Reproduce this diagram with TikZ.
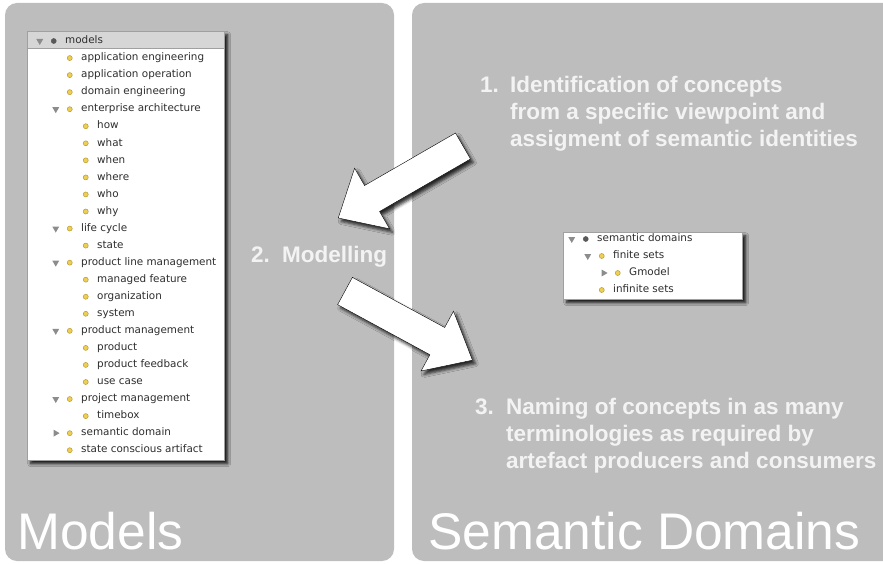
\documentclass[tikz,border=0pt]{standalone}
\usepackage{fontspec}
\setmainfont{Liberation Sans}
\newfontfamily\treefamily{DejaVu Sans}
\usepackage{xcolor}
\usepackage{tikz}
\usetikzlibrary{shapes.geometric,shadows.blur}
\definecolor{panel}{HTML}{BCBDBC}
\definecolor{note}{HTML}{F3F3F3}
\definecolor{treetext}{HTML}{2E2E2E}
\definecolor{treeline}{HTML}{A0A0A0}
\definecolor{header}{HTML}{D6D6D6}
\definecolor{bulletfill}{HTML}{EDCF55}
\definecolor{bulletdraw}{HTML}{B99A2E}
\definecolor{toggle}{HTML}{8C8C8C}
\newcommand\treefont{\treefamily\fontsize{10.4}{12}\selectfont}
\newcommand\notefont{\bfseries\fontsize{22.5}{27}\selectfont}

\begin{document}
\begin{tikzpicture}[
  x=1pt,y=-1pt,
  panelbox/.style={fill=panel,rounded corners=12pt},
  treebox/.style={draw=treeline,fill=white,anchor=north west,inner sep=0pt,
    blur shadow={shadow xshift=3.5pt,shadow yshift=-3.5pt,shadow blur radius=3pt,shadow opacity=90}},
  headbar/.style={draw=treeline,fill=header,anchor=north west,inner sep=0pt},
  item/.style={anchor=west,inner sep=0pt,font=\treefont,text=treetext,text height=7.5pt,text depth=2pt},
  bullet/.style={circle,fill=bulletfill,draw=bulletdraw,line width=0.5pt,inner sep=0pt,minimum size=5pt,label distance=8.5pt},
  rootdot/.style={bullet,fill=black!65,draw=black!65},
  tridown/.style={regular polygon,regular polygon sides=3,shape border rotate=180,fill=toggle,inner sep=0pt,minimum size=8pt,label distance=22.7pt},
  triright/.style={regular polygon,regular polygon sides=3,shape border rotate=-90,fill=toggle,inner sep=0pt,minimum size=8pt,label distance=21pt},
  leaf/.style={item,label={[bullet]left:}},
  open/.style={leaf,label={[tridown]left:}},
  closed/.style={leaf,label={[triright]left:}},
  root/.style={item,label={[rootdot]left:},label={[tridown]left:}},
  note/.style={inner sep=0pt,anchor=base west,text=note,font=\notefont},
  title/.style={inner sep=0pt,anchor=base west,text=white,font=\fontsize{51.5}{60}\selectfont},
  bigarrow/.style={fill=white,blur shadow={shadow xshift=3pt,shadow yshift=-3.5pt,shadow blur radius=3pt,shadow opacity=80}}
]
\useasboundingbox (0,0) rectangle (883,564);
\fill[panelbox] (5,3) rectangle (394,561);
\fill[panelbox] (412,3) rectangle (900,561);

\node[treebox,minimum width=197pt,minimum height=429pt] (lbox) at (27,31) {};
\node[headbar,minimum width=197pt,minimum height=17pt] (lhead) at (27,31) {};
\node[root] (models) at (65,41) {models};
\node[leaf] (appeng) at (81,58.05) {application engineering};
\node[leaf] (appop) at (81,75.1) {application operation};
\node[leaf] (domeng) at (81,92.15) {domain engineering};
\node[open] (entarch) at (81,109.2) {enterprise architecture};
\node[leaf] (how) at (97,126.25) {how};
\node[leaf] (what) at (97,143.3) {what};
\node[leaf] (when) at (97,160.35) {when};
\node[leaf] (where) at (97,177.4) {where};
\node[leaf] (who) at (97,194.45) {who};
\node[leaf] (why) at (97,211.5) {why};
\node[open] (lifecyc) at (81,228.55) {life cycle};
\node[leaf] (state) at (97,245.6) {state};
\node[open] (plm) at (81,262.65) {product line management};
\node[leaf] (mfeat) at (97,279.7) {managed feature};
\node[leaf] (org) at (97,296.75) {organization};
\node[leaf] (system) at (97,313.8) {system};
\node[open] (pm) at (81,330.85) {product management};
\node[leaf] (product) at (97,347.9) {product};
\node[leaf] (pfeed) at (97,364.95) {product feedback};
\node[leaf] (usecase) at (97,382) {use case};
\node[open] (projm) at (81,399.05) {project management};
\node[leaf] (timebox) at (97,416.1) {timebox};
\node[closed] (semdom) at (81,433.15) {semantic domain};
\node[leaf] (sca) at (81,450.2) {state conscious artifact};

\node[treebox,minimum width=179pt,minimum height=67pt] (rbox) at (563,232) {};
\node[root] (semdoms) at (597,239) {semantic domains};
\node[open] (finite) at (613,256) {finite sets};
\node[closed] (gmodel) at (629,273) {Gmodel};
\node[leaf] (infinite) at (613,290) {infinite sets};

\node[note] (ident) at (480,93) {\begin{tabular}[t]{@{}p{30pt}@{}l@{}}1.&Identification of concepts\\&from a specific viewpoint and\\&assigment of semantic identities\end{tabular}};
\node[note] (modelling) at (251,262) {\begin{tabular}[t]{@{}p{31pt}@{}l@{}}2.&Modelling\end{tabular}};
\node[note] (naming) at (475,414) {\begin{tabular}[t]{@{}p{31pt}@{}l@{}}3.&Naming of concepts in as many\\&terminologies as required by\\&artefact producers and consumers\end{tabular}};

\draw[bigarrow,shift={(463,146)},rotate=210] (0,-15) -- (105,-15) -- (105,-35) -- (144,0) -- (105,35) -- (105,15) -- (0,15) -- cycle;
\draw[bigarrow,shift={(345,291)},rotate=-28.5] (0,-15.5) -- (105,-15.5) -- (105,-34) -- (145,0) -- (105,34) -- (105,15.5) -- (0,15.5) -- cycle;

\node[title] (mtitle) at (17,549) {Models};
\node[title] (stitle) at (428,549) {Semantic Domains};
\end{tikzpicture}
\end{document}
